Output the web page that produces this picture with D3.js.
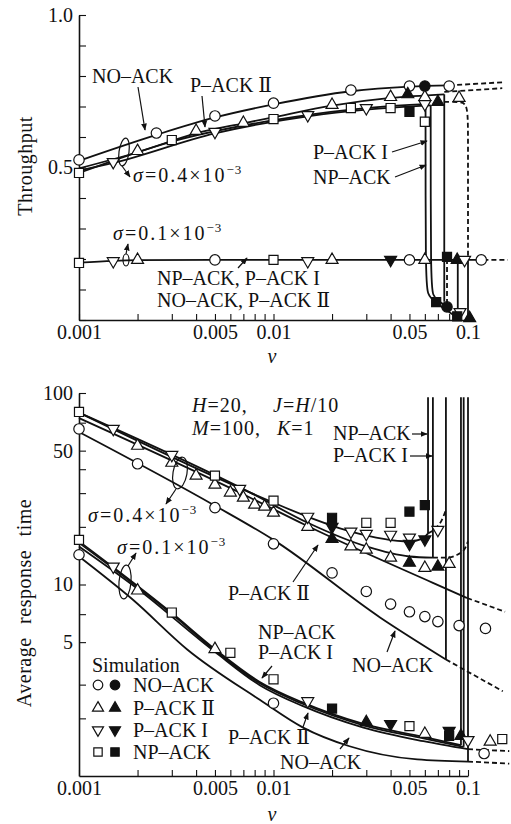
<!DOCTYPE html>
<html>
<head>
<meta charset="utf-8">
<script src="https://cdn.jsdelivr.net/npm/d3@7"></script>
<style>
  body { margin: 0; background: #fff; }
  svg text { font-family: "Liberation Serif", "DejaVu Serif", serif; fill: #111; }
</style>
</head>
<body>
<svg id="chart" width="511" height="824"></svg>
<script>
// ---- axis ticks ----
const nuTicks = [0.001, 0.002, 0.003, 0.004, 0.005, 0.006, 0.007, 0.008, 0.009,
                 0.01, 0.02, 0.03, 0.04, 0.05, 0.06, 0.07, 0.08, 0.09, 0.1];
const nuLabels = [0.001, 0.005, 0.01, 0.05, 0.1];
const thrTicks = [0, 0.1, 0.2, 0.3, 0.4, 0.5, 0.6, 0.7, 0.8, 0.9, 1.0];
const thrLabels = [0.5, 1.0];
const rtTicks = [2, 3, 5, 7, 10, 20, 30, 40, 50, 70, 100];
const rtLabels = [5, 10, 50, 100];

// ---- throughput, analysis (nu, throughput) ----
const thrNoAck04 = [[0.001, 0.522], [0.0025, 0.607], [0.005, 0.664], [0.01, 0.707], [0.025, 0.75], [0.05, 0.765], [0.08, 0.769]];
const thrNoAck04Ext = [[0.08, 0.769], [0.155, 0.78]];
const thrPAck2_04 = [[0.001, 0.497], [0.002, 0.55], [0.004, 0.612], [0.007, 0.645], [0.01, 0.665], [0.02, 0.703], [0.04, 0.728], [0.0755, 0.74]];
const thrPAck2_04Drop = [[0.0755, 0.74], [0.0755, 0.06]];
const thrPAck2_04Ext = [[0.0755, 0.748], [0.15, 0.76]];
const thrNpAck04 = [[0.001, 0.482], [0.003, 0.585], [0.01, 0.655], [0.025, 0.69], [0.05, 0.705], [0.0605, 0.708]];
const thrNpAck04Drop = [[0.0605, 0.708], [0.0605, 0.13], [0.062, 0.085], [0.066, 0.062], [0.088, 0.008]];
const thrPAck1_04 = [[0.001, 0.49], [0.0015, 0.515], [0.005, 0.612], [0.015, 0.668], [0.03, 0.69], [0.06, 0.703], [0.0643, 0.704]];
const thrPAck1_04Drop = [[0.0643, 0.704], [0.0643, 0.12], [0.066, 0.08], [0.07, 0.062], [0.078, 0.045]];
const thrUnstable = [[0.0755, 0.715], [0.09, 0.715], [0.1, 0.712], [0.1, 0.6], [0.1, 0.2]];
const thrSigma01 = [[0.001, 0.188], [0.0015, 0.194], [0.002, 0.196], [0.005, 0.197], [0.12, 0.197]];
const thrSigma01Ext = [[0.12, 0.197], [0.16, 0.197]];
const thrJumpA = [[0.0886, 0.197], [0.0886, 0.022]];
const thrJumpB = [[0.1, 0.2], [0.1, 0.0]];
const thrJumpDash = [[0.078, 0.2], [0.078, 0.045]];

// ---- throughput, simulation ----
const thrSimNoAck = [[0.001, 0.525], [0.0025, 0.613], [0.005, 0.669], [0.01, 0.711], [0.025, 0.754], [0.05, 0.767], [0.08, 0.767], [0.005, 0.197], [0.05, 0.197], [0.117, 0.197]];
const thrSimNoAckF = [[0.06, 0.767], [0.078, 0.043]];
const thrSimPAck2 = [[0.002, 0.554], [0.004, 0.62], [0.007, 0.646], [0.02, 0.705], [0.04, 0.731], [0.06, 0.731], [0.09, 0.728], [0.002, 0.197], [0.02, 0.197], [0.06, 0.197]];
const thrSimPAck2F = [[0.049, 0.74], [0.07, 0.715], [0.088, 0.197], [0.102, 0.006]];
const thrSimPAck1 = [[0.0015, 0.518], [0.005, 0.617], [0.015, 0.672], [0.03, 0.695], [0.06, 0.708], [0.0015, 0.193], [0.015, 0.193], [0.096, 0.197], [0.091, 0.026]];
const thrSimPAck1F = [[0.04, 0.197]];
const thrSimNpAck = [[0.001, 0.482], [0.003, 0.59], [0.01, 0.659], [0.025, 0.695], [0.04, 0.695], [0.06, 0.65], [0.001, 0.187], [0.01, 0.197]];
const thrSimNpAckF = [[0.05, 0.682], [0.078, 0.207], [0.0686, 0.059], [0.088, 0.012]];

// ---- response time, analysis (nu, time) ----
const rtNpAck04 = [[0.001, 79], [0.0076, 30.2], [0.015, 22.6], [0.025, 18.9], [0.05, 16.8], [0.058, 17.3], [0.0623, 18.5]];
const rtNpAck04Up = [[0.0623, 18.5], [0.0623, 95]];
const rtNpAck04Ext = [[0.0623, 18.5], [0.068, 19.6], [0.073, 21.5], [0.077, 24.5]];
const rtPAck1_04 = [[0.001, 79], [0.0076, 30.2], [0.015, 21.0], [0.03, 15.8], [0.05, 14.0], [0.066, 13.8]];
const rtPAck1_04Up = [[0.066, 13.8], [0.066, 95]];
const rtPAck1_04Ext = [[0.066, 13.8], [0.077, 13.8], [0.088, 14.3], [0.096, 15.3], [0.1, 16.8]];
const rtPAck2_04 = [[0.001, 74], [0.0076, 28.4], [0.0145, 20.5], [0.066, 10.2], [0.099, 8.5]];
const rtPAck2_04Ext = [[0.099, 8.5], [0.155, 7.2]];
const rtNoAck04 = [[0.001, 62.6], [0.005, 25.8], [0.01, 17.1], [0.0353, 6.73], [0.077, 4.06]];
const rtNoAck04Up = [[0.077, 4.06], [0.077, 95]];
const rtNoAck04Ext = [[0.077, 4.06], [0.151, 2.77]];
const rtNpAck01 = [[0.001, 16.8], [0.003, 7.1], [0.005, 4.6], [0.0085, 3.1], [0.014, 2.43], [0.029, 1.87], [0.059, 1.6], [0.092, 1.45]];
const rtNpAck01Up = [[0.092, 1.45], [0.092, 95]];
const rtPAck1_01 = [[0.001, 16.5], [0.003, 7.0], [0.005, 4.52], [0.0085, 3.05], [0.014, 2.39], [0.029, 1.84], [0.059, 1.57], [0.095, 1.42]];
const rtPAck1_01Up = [[0.095, 1.42], [0.095, 95]];
const rtPAck2_01 = [[0.001, 15.8], [0.002, 9.5], [0.005, 4.45], [0.0085, 2.98], [0.014, 2.33], [0.029, 1.79], [0.059, 1.52], [0.1, 1.38]];
const rtPAck2_01Ext = [[0.1, 1.38], [0.163, 1.35]];
const rtNoAck01 = [[0.001, 14.0], [0.0019, 8.3], [0.0036, 4.58], [0.0085, 2.5], [0.0142, 1.79], [0.0246, 1.43], [0.0548, 1.22], [0.1, 1.19]];
const rtNoAck01Up = [[0.1, 1.19], [0.1, 95]];
const rtNoAck01Ext = [[0.1, 1.19], [0.163, 1.16]];

// ---- response time, simulation ----
const rtSimNoAck = [[0.001, 64.9], [0.002, 42.7], [0.005, 25.2], [0.01, 16.3], [0.02, 11.5], [0.03, 9.2], [0.04, 7.9], [0.05, 7.2], [0.06, 6.8], [0.07, 6.4], [0.09, 6.1], [0.123, 5.9], [0.001, 14.3], [0.01, 2.4], [0.121, 1.31]];
const rtSimPAck2 = [[0.002, 53], [0.003, 43.2], [0.004, 37], [0.005, 33.2], [0.006, 30.2], [0.007, 28.4], [0.008, 26.1], [0.009, 25.5], [0.01, 23.7], [0.015, 20.0], [0.025, 15.8], [0.03, 15.2], [0.04, 13.8], [0.06, 12.2], [0.08, 12.8], [0.002, 9.3], [0.005, 4.6], [0.06, 1.66], [0.13, 1.51]];
const rtSimPAck2F = [[0.02, 17.3], [0.05, 13.0], [0.07, 12.4], [0.03, 1.91], [0.092, 1.62]];
const rtSimPAck1 = [[0.0015, 65], [0.003, 47.5], [0.0067, 31.6], [0.015, 22.6], [0.025, 18.9], [0.03, 18.4], [0.04, 18.2], [0.05, 17.6], [0.07, 19.3], [0.0015, 12.4], [0.015, 2.46], [0.1, 1.54]];
const rtSimPAck1F = [[0.02, 20], [0.05, 16.3], [0.06, 17.2], [0.04, 1.87], [0.08, 1.72]];
const rtSimNpAck = [[0.001, 79.6], [0.005, 37], [0.01, 27.4], [0.03, 21], [0.04, 21], [0.001, 17.1], [0.003, 7.14], [0.006, 4.4], [0.01, 3.2], [0.05, 1.82], [0.15, 1.56]];
const rtSimNpAckF = [[0.02, 22.3], [0.05, 24], [0.06, 26], [0.02, 2.25], [0.08, 1.62]];

const svg = d3.select('#chart');
const ink = '#111';

const x = d3.scaleLog().domain([0.001, 0.1]).range([79, 468]);
const yThr = d3.scaleLinear().domain([0, 1]).range([320, 15]);
const yRt = d3.scaleLog().domain([1, 100]).range([776, 393]);

svg.append('defs').append('marker')
    .attr('id', 'arrow')
    .attr('viewBox', '0 0 10 10')
    .attr('refX', 9).attr('refY', 5)
    .attr('markerWidth', 6).attr('markerHeight', 6)
    .attr('orient', 'auto')
    .append('path').attr('d', 'M0,1 L10,5 L0,9 z').attr('fill', ink);

// ---- axes ----
const styleAxis = (g) => {
    g.attr('font-family', null).attr('font-size', 20);
    g.select('.domain').attr('stroke', ink).attr('stroke-width', 1.6);
    g.selectAll('.tick line').attr('stroke', ink).attr('stroke-width', 1.1);
    g.selectAll('.tick text').attr('fill', ink);
};

const drawXAxis = (y0) => {
    svg.append('g')
        .attr('transform', 'translate(0,' + y0 + ')')
        .call(d3.axisBottom(x).tickValues(nuTicks).tickSize(-6).tickSizeOuter(0).tickPadding(5)
            .tickFormat(d => nuLabels.includes(d) ? String(d) : ''))
        .call(styleAxis);
};

drawXAxis(320);
drawXAxis(776);

svg.append('g')
    .attr('transform', 'translate(79,0)')
    .call(d3.axisLeft(yThr).tickValues(thrTicks).tickSize(-7).tickSizeOuter(0).tickPadding(6)
        .tickFormat(d => thrLabels.includes(d) ? d.toFixed(1) : ''))
    .call(styleAxis);

svg.append('g')
    .attr('transform', 'translate(79,0)')
    .call(d3.axisLeft(yRt).tickValues(rtTicks).tickSize(-7).tickSizeOuter(0).tickPadding(6)
        .tickFormat(d => rtLabels.includes(d) ? String(d) : ''))
    .call(styleAxis);

// ---- curves ----
const drawLine = (data, yScale, opts = {}) => {
    let gen = d3.line()
        .x(d => x(d[0]))
        .y(d => yScale(d[1]))
        .curve(opts.curve || d3.curveMonotoneX);
    svg.append('path')
        .datum(data)
        .attr('d', gen)
        .attr('fill', 'none')
        .attr('stroke', ink)
        .attr('stroke-width', opts.width || 1.8)
        .attr('stroke-dasharray', opts.dash ? '5,3' : null);
};

const straight = {curve: d3.curveLinear};
const corner = {curve: d3.curveBasis};
const dashed = {dash: true};

drawLine(thrNoAck04, yThr);
drawLine(thrNoAck04Ext, yThr, dashed);
drawLine(thrPAck2_04, yThr);
drawLine(thrPAck2_04Drop, yThr, straight);
drawLine(thrPAck2_04Ext, yThr, dashed);
drawLine(thrNpAck04, yThr);
drawLine(thrNpAck04Drop, yThr, corner);
drawLine(thrPAck1_04, yThr);
drawLine(thrPAck1_04Drop, yThr, corner);
drawLine(thrUnstable, yThr, {curve: d3.curveBasis, dash: true});
drawLine(thrSigma01, yThr);
drawLine(thrSigma01Ext, yThr, dashed);
drawLine(thrJumpA, yThr, straight);
drawLine(thrJumpB, yThr, straight);
drawLine(thrJumpDash, yThr, {curve: d3.curveLinear, dash: true});

drawLine(rtNpAck04, yRt);
drawLine(rtNpAck04Up, yRt, straight);
drawLine(rtNpAck04Ext, yRt, dashed);
drawLine(rtPAck1_04, yRt);
drawLine(rtPAck1_04Up, yRt, straight);
drawLine(rtPAck1_04Ext, yRt, dashed);
drawLine(rtPAck2_04, yRt);
drawLine(rtPAck2_04Ext, yRt, dashed);
drawLine(rtNoAck04, yRt);
drawLine(rtNoAck04Up, yRt, straight);
drawLine(rtNoAck04Ext, yRt, dashed);
drawLine(rtNpAck01, yRt);
drawLine(rtNpAck01Up, yRt, straight);
drawLine(rtPAck1_01, yRt);
drawLine(rtPAck1_01Up, yRt, straight);
drawLine(rtPAck2_01, yRt);
drawLine(rtPAck2_01Ext, yRt, dashed);
drawLine(rtNoAck01, yRt);
drawLine(rtNoAck01Up, yRt, straight);
drawLine(rtNoAck01Ext, yRt, dashed);

// ---- simulation markers ----
const shapes = {
    circle: {type: d3.symbolCircle, size: 85, rot: 0},
    up: {type: d3.symbolTriangle, size: 62, rot: 0},
    down: {type: d3.symbolTriangle, size: 62, rot: 180},
    square: {type: d3.symbolSquare, size: 82, rot: 0}
};

const drawMarks = (data, yScale, shape, filled) => {
    let s = shapes[shape];
    svg.append('g').selectAll('path')
        .data(data)
        .enter().append('path')
        .attr('d', d3.symbol().type(s.type).size(s.size))
        .attr('transform', d => 'translate(' + [x(d[0]), yScale(d[1])] + ')rotate(' + s.rot + ')')
        .attr('fill', filled ? ink : '#fff')
        .attr('stroke', ink)
        .attr('stroke-width', 1.2);
};

drawMarks(thrSimNoAck, yThr, 'circle', false);
drawMarks(thrSimNoAckF, yThr, 'circle', true);
drawMarks(thrSimPAck2, yThr, 'up', false);
drawMarks(thrSimPAck2F, yThr, 'up', true);
drawMarks(thrSimPAck1, yThr, 'down', false);
drawMarks(thrSimPAck1F, yThr, 'down', true);
drawMarks(thrSimNpAck, yThr, 'square', false);
drawMarks(thrSimNpAckF, yThr, 'square', true);

drawMarks(rtSimNoAck, yRt, 'circle', false);
drawMarks(rtSimPAck2, yRt, 'up', false);
drawMarks(rtSimPAck2F, yRt, 'up', true);
drawMarks(rtSimPAck1, yRt, 'down', false);
drawMarks(rtSimPAck1F, yRt, 'down', true);
drawMarks(rtSimNpAck, yRt, 'square', false);
drawMarks(rtSimNpAckF, yRt, 'square', true);

// ---- annotations ----
const label = (px, py, str, opts = {}) => {
    let t = svg.append('text')
        .attr('x', px).attr('y', py)
        .attr('font-size', opts.size || 20)
        .attr('text-anchor', opts.anchor || 'start')
        .text(str);
    if (opts.italic) t.attr('font-style', 'italic');
    if (opts.spacing) t.attr('letter-spacing', opts.spacing);
    return t;
};

const sigmaLabel = (px, py, val) => {
    let t = svg.append('text').attr('x', px).attr('y', py).attr('font-size', 20).attr('letter-spacing', 2);
    t.append('tspan').attr('font-style', 'italic').text('σ');
    t.append('tspan').text('=' + val + '×10');
    t.append('tspan').attr('dy', -8).attr('font-size', 13).attr('letter-spacing', 1).text('−3');
};

const paramLabel = (px, py, name, rest) => {
    let t = svg.append('text').attr('x', px).attr('y', py).attr('font-size', 20).attr('letter-spacing', 1);
    t.append('tspan').attr('font-style', 'italic').text(name);
    t.append('tspan').text(rest);
    return t;
};

const arrow = (x1, y1, x2, y2) => {
    svg.append('line')
        .attr('x1', x1).attr('y1', y1).attr('x2', x2).attr('y2', y2)
        .attr('stroke', ink).attr('stroke-width', 1.2)
        .attr('marker-end', 'url(#arrow)');
};

const ellipse = (cx, cy, rx, ry, rot) => {
    svg.append('ellipse')
        .attr('cx', 0).attr('cy', 0).attr('rx', rx).attr('ry', ry)
        .attr('transform', 'translate(' + cx + ',' + cy + ')rotate(' + rot + ')')
        .attr('fill', 'none').attr('stroke', ink).attr('stroke-width', 1.2);
};

// throughput panel
svg.append('text')
    .attr('transform', 'translate(32,166)rotate(-90)')
    .attr('text-anchor', 'middle').attr('font-size', 20).attr('letter-spacing', 0.5)
    .text('Throughput');
label(92, 83, 'NO–ACK');
arrow(138, 87, 145, 130);
label(190, 92, 'P–ACK Ⅱ');
arrow(202, 96, 205, 127);
ellipse(124, 152, 5, 14, 8);
arrow(122, 166, 130, 177);
sigmaLabel(133, 182, '0.4');
label(313, 159, 'P–ACK I');
arrow(392, 152, 427, 141);
label(313, 184, 'NP–ACK');
arrow(395, 177, 426, 165);
ellipse(126, 260, 3, 6, 0);
arrow(126, 254, 128, 244);
sigmaLabel(113, 240, '0.1');
label(157, 285, 'NP–ACK,  P–ACK I');
label(157, 307, 'NO–ACK,  P–ACK Ⅱ');
arrow(238, 268, 247, 258);
label(272, 363, 'ν', {italic: true, anchor: 'middle'});

// response time panel
svg.append('text')
    .attr('transform', 'translate(31,603)rotate(-90)')
    .attr('text-anchor', 'middle').attr('font-size', 20).attr('letter-spacing', 0.5).attr('word-spacing', 8)
    .text('Average response time');
paramLabel(192, 412, 'H', '=20,');
let jl = paramLabel(273, 412, 'J', '=');
jl.append('tspan').attr('font-style', 'italic').text('H');
jl.append('tspan').text('/10');
paramLabel(192, 435, 'M', '=100,');
paramLabel(277, 435, 'K', '=1');
label(333, 440, 'NP–ACK');
arrow(412, 434, 427, 434);
label(333, 462, 'P–ACK I');
arrow(410, 456, 432, 456);
ellipse(180, 473, 7, 16, 10);
arrow(176, 489, 166, 504);
sigmaLabel(88, 522, '0.4');
ellipse(125, 582, 6, 17, 5);
arrow(128, 566, 136, 553);
sigmaLabel(117, 554, '0.1');
label(228, 600, 'P–ACK Ⅱ');
arrow(293, 582, 318, 545);
label(352, 672, 'NO–ACK');
arrow(387, 652, 395, 631);
label(258, 639, 'NP–ACK');
label(258, 659, 'P–ACK I');
arrow(272, 666, 262, 678);
label(228, 744, 'P–ACK Ⅱ');
arrow(303, 727, 308, 713);
label(280, 769, 'NO–ACK');
arrow(340, 749, 349, 738);
label(272, 821, 'ν', {italic: true, anchor: 'middle'});

// legend
label(92, 672, 'Simulation');
const legendRows = [
    {shape: 'circle', text: 'NO–ACK', y: 685},
    {shape: 'up', text: 'P–ACK Ⅱ', y: 708},
    {shape: 'down', text: 'P–ACK I', y: 730},
    {shape: 'square', text: 'NP–ACK', y: 752}
];
legendRows.forEach(r => {
    let s = shapes[r.shape];
    [false, true].forEach((filled, i) => {
        svg.append('path')
            .attr('d', d3.symbol().type(s.type).size(s.size * 0.85))
            .attr('transform', 'translate(' + (98 + i * 17) + ',' + r.y + ')rotate(' + s.rot + ')')
            .attr('fill', filled ? ink : '#fff')
            .attr('stroke', ink).attr('stroke-width', 1.2);
    });
    label(133, r.y + 7, r.text);
});
</script>
</body>
</html>
